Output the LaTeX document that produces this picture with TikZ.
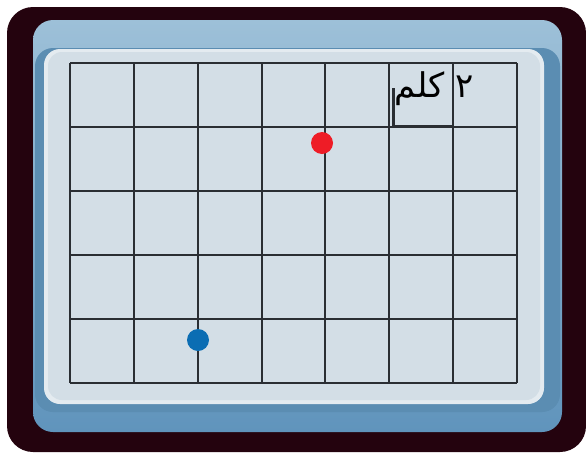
\documentclass[tikz,border=0pt]{standalone}
\usepackage{fontspec}
\newfontfamily\arabicfont[Script=Arabic]{DejaVu Sans}
\TeXXeTstate=1
\usetikzlibrary{positioning}

\definecolor{framedark}{HTML}{24030E}
\definecolor{frameblue}{HTML}{6094BC}
\definecolor{framelight}{HTML}{9DC0D8}
\definecolor{panelgray}{HTML}{D3DEE6}
\definecolor{gridline}{HTML}{2A2E33}
\definecolor{dotred}{HTML}{EE1C26}
\definecolor{dotblue}{HTML}{0B6DB3}

\tikzset{
  dot/.style={circle, inner sep=0pt, minimum size=22pt},
}

\begin{document}
\begin{tikzpicture}[x=1pt, y=-1pt, thick]
    \useasboundingbox (0,0) rectangle (586,461);

    % 外层深色边框
    \fill[framedark, rounded corners=26pt] (7,7) rectangle (586,452);

    % 蓝色边框
    \shade[top color=framelight, bottom color=frameblue, rounded corners=20pt] (33,20) rectangle (562,432);
    \fill[frameblue!95!black, rounded corners=18pt] (35,48) rectangle (560,412);

    % 浅色面板
    \fill[panelgray!60!white, rounded corners=16pt] (44,49) rectangle (544,404);
    \fill[panelgray, rounded corners=14pt] (48,52) rectangle (540,400);

    % 绘制网格
    \foreach \i in {0,...,7} {
        \draw[gridline, line width=2pt] (70+63.86*\i, 63) -- (70+63.86*\i, 383);
    }
    \foreach \j in {0,...,5} {
        \draw[gridline, line width=2pt] (70, 63+64*\j) -- (517, 63+64*\j);
    }

    % 比例尺
    \coordinate (scaletop) at (393,88);
    \coordinate (scaleleft) at (393,126);
    \coordinate (scaleright) at (454,126);
    \draw[gridline, line width=3pt] (scaletop) -- (scaleleft) -- (scaleright);
    \node[anchor=base east, inner sep=0pt] (scalelabel) at (474,97)
        {\arabicfont\fontsize{34}{36}\selectfont\beginR ٢ كلم\endR};

    % 两个位置点
    \node[dot, fill=dotred] (reddot) at (322,143) {};
    \node[dot, fill=dotblue] (bluedot) at (198,340) {};
\end{tikzpicture}
\end{document}
